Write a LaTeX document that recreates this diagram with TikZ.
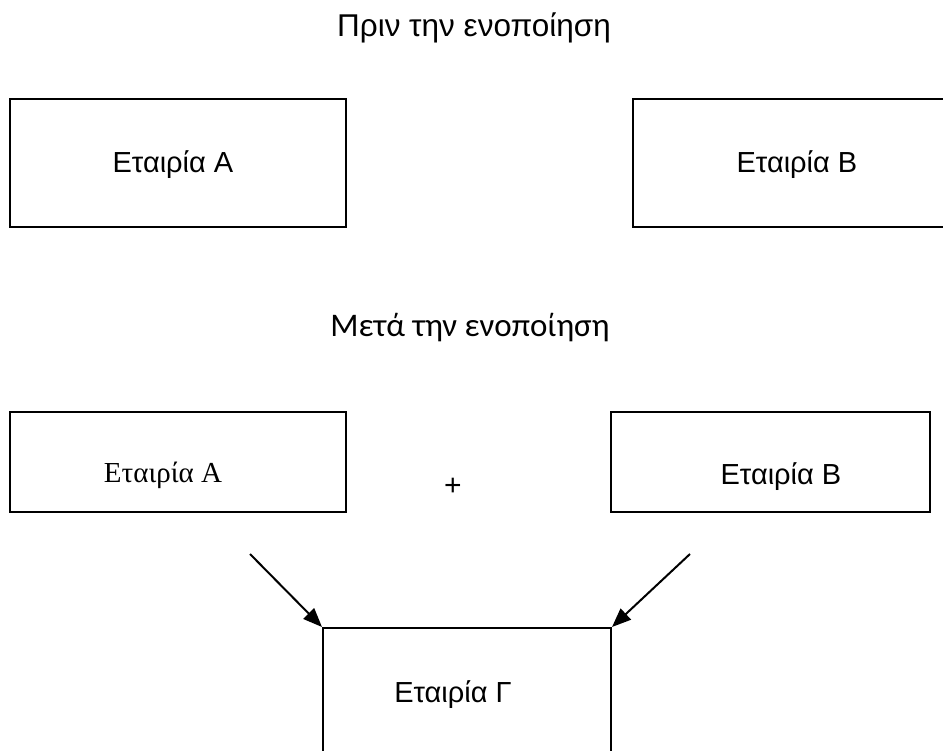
\documentclass[tikz,border=0pt]{standalone}
\usepackage{fontspec}
\setmainfont{Liberation Sans}
\newfontfamily\serifgr{Liberation Serif}
\newfontfamily\calgr{Carlito}
\usetikzlibrary{arrows.meta}
\begin{document}
\begin{tikzpicture}[x=1pt,y=-1pt,
  box/.style={draw,line width=2pt},
  lbl/.style={inner sep=0pt,font=\fontsize{29}{34}\selectfont},
  arr/.style={line width=2pt,-{Triangle[length=19pt,width=15pt]}}]
\useasboundingbox (0,0) rectangle (943,751);
\node[lbl,font=\fontsize{31.5}{36}\selectfont] (t1) at (474,28) {Πριν την ενοποίηση};
\draw[box] (10,99) rectangle (346,227);
\node[lbl] (a1) at (173,165) {Εταιρία Α};
\draw[box] (633,99) rectangle (960,227);
\node[lbl] (b1) at (797,165) {Εταιρία Β};
\node[lbl,font=\calgr\fontsize{33}{38}\selectfont] (t2) at (470,328) {Μετά την ενοποίηση};
\draw[box] (10,412) rectangle (346,512);
\node[lbl,font=\serifgr\fontsize{29}{34}\selectfont] (a2) at (163,475) {Εταιρία Α};
\node[lbl,font=\fontsize{30}{34}\selectfont] (plus) at (453,487) {+};
\draw[box] (611,412) rectangle (930,512);
\node[lbl] (b2) at (781,477) {Εταιρία Β};
\node[box,minimum width=288pt,minimum height=160pt,anchor=north west] (g) at (322,627) {};
\node[lbl] (gt) at (453,695) {Εταιρία Γ};
\coordinate (la) at (250,554);
\coordinate (ra) at (690,554);
\draw[arr] (la) -- (g.north west);
\draw[arr] (ra) -- (g.north east);
\end{tikzpicture}
\end{document}
